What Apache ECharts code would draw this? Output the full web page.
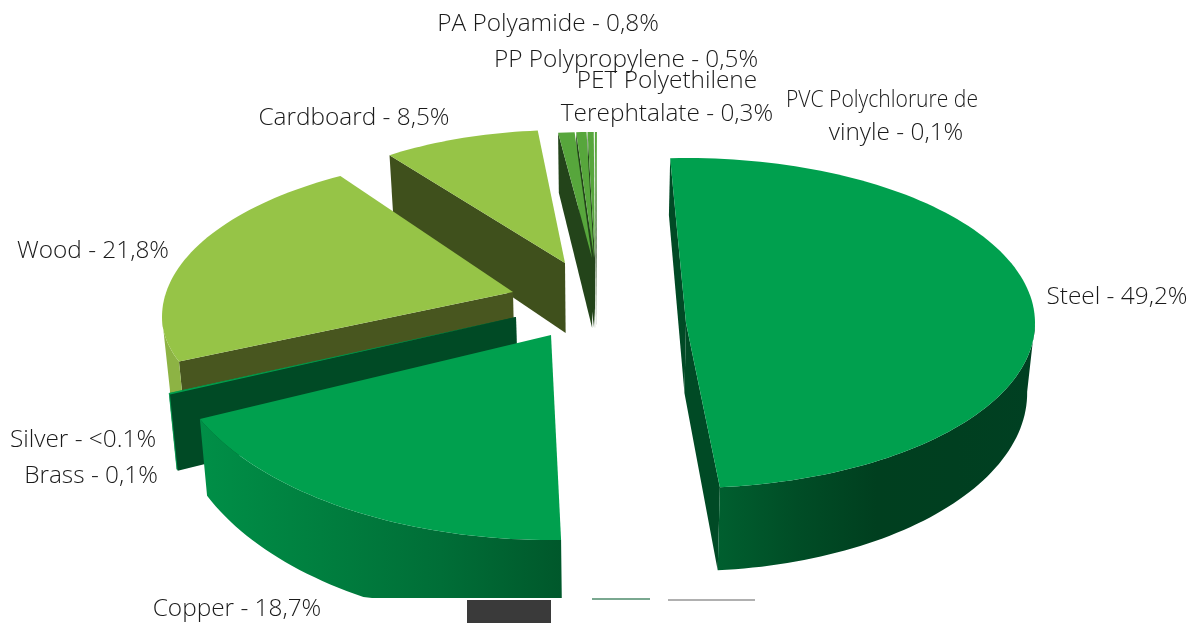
<!DOCTYPE html>
<html>
<head>
<meta charset="utf-8">
<style>
  html, body { margin: 0; padding: 0; background: #fff; }
  #chart { width: 1200px; height: 630px; }
</style>
<script src="https://cdn.jsdelivr.net/npm/echarts@6/dist/echarts.min.js"></script>
</head>
<body>
<div id="chart"></div>
<script>
// data, clockwise from the top
var categories = ['Steel', 'Copper', 'Brass', 'Silver', 'Wood', 'Cardboard', 'PA Polyamide', 'PP Polypropylene', 'PET Polyethilene Terephtalate', 'PVC Polychlorure de vinyle'];
var values = [49.2, 18.7, 0.1, 0.05, 21.8, 8.5, 0.8, 0.5, 0.3, 0.1];
var valueLabels = ['49,2%', '18,7%', '0,1%', '<0.1%', '21,8%', '8,5%', '0,8%', '0,5%', '0,3%', '0,1%'];

// where each exploded slice sits: apex, ellipse centre height, radii and start angle
var sliceLayout = [
  { ax: 686, ay: 323, cy: 323, rx: 349, ryTop: 165, ryBot: 165, start: -2.6, top: '#00a04e', side: '#004a25', wall: ['#005f2f', '#004d26', '#003f1f', '#003f20', '#004022'] },
  { ax: 551, ay: 335, cy: 335, rx: 385, ryTop: 205, ryBot: 205, start: 178.5, top: '#00a04e', side: '#004a25', wall: ['#008f47', '#007f3f', '#006e37', '#00582b'] },
  { ax: 516, ay: 317, cy: 317, rx: 377, ryTop: 195, ryBot: 195, start: 246.6, top: '#00a04e', side: '#004a25', wall: ['#00944a', '#00944a'] },
  { ax: 516, ay: 317, cy: 317, rx: 377, ryTop: 195, ryBot: 195, start: 246.9, top: '#00a04e', side: '#004a25', wall: ['#00944a', '#00944a'] },
  { ax: 513, ay: 292, cy: 317, rx: 351, ryTop: 162, ryBot: 145, start: 252.1, top: '#96c447', side: '#48561f', wall: ['#8db344', '#8db344'] },
  { ax: 565, ay: 263, cy: 263, rx: 300, ryTop: 133, ryBot: 133, start: -35.8, top: '#96c447', side: '#3f501c', wall: ['#3f501c', '#3f501c'] },
  { ax: 592, ay: 258, cy: 258, rx: 330, ryTop: 126, ryBot: 126, start: -5.9, top: '#57a63c', side: '#23441a', wall: ['#23441a', '#23441a'] },
  { ax: 594, ay: 258, cy: 258, rx: 330, ryTop: 126, ryBot: 126, start: -3.1, top: '#57a63c', side: '#23441a', wall: ['#23441a', '#23441a'] },
  { ax: 595, ay: 258, cy: 258, rx: 330, ryTop: 126, ryBot: 126, start: -1.3, top: '#57a63c', side: '#23441a', wall: ['#23441a', '#23441a'] },
  { ax: 596, ay: 258, cy: 258, rx: 330, ryTop: 126, ryBot: 126, start: -0.2, top: '#57a63c', side: '#23441a', wall: ['#23441a', '#23441a'] }
];
// painter's order, back to front
var drawOrder = [9, 8, 7, 6, 5, 4, 3, 2, 1, 0];

// one entry per label line: index into categories is implied by the order of labelLines
var labelLines = [
  ['Steel'], ['Copper'], ['Brass'], ['Silver'], ['Wood'], ['Cardboard'], ['PA Polyamide'], ['PP Polypropylene'],
  ['PET Polyethilene', 'Terephtalate'], ['PVC Polychlorure de', 'vinyle']
];
var labelLayout = [
  [{ x: 1117, y: 297 }], [{ x: 237, y: 609 }], [{ x: 91, y: 476 }], [{ x: 83, y: 440 }], [{ x: 93, y: 251 }],
  [{ x: 354, y: 118 }], [{ x: 548, y: 24 }], [{ x: 626, y: 60 }],
  [{ x: 667, y: 81 }, { x: 667, y: 114 }],
  [{ x: 882, y: 100, squeeze: 0.865 }, { x: 896, y: 133 }]
];

var total = values.reduce(function (a, b) { return a + b; }, 0);
var floorY = 598; // the source picture is cut off here

function topPoint(s, deg) {
  var t = deg * Math.PI / 180;
  var c = Math.cos(t);
  return [s.ax + s.rx * Math.sin(t), s.cy - (c > 0 ? s.ryTop : s.ryBot) * c];
}
function dropPoint(s, p) {
  // walls get taller toward the viewer and lean in a little
  var depth = 70 + 0.08 * (p[1] - s.ay);
  return [p[0] - (p[0] - 600) * 0.018, Math.min(p[1] + depth, floorY)];
}
function poly(points, fill) {
  return { type: 'polygon', shape: { points: points }, style: { fill: fill }, silent: true };
}

function renderSlice(params, api) {
  var i = api.value(0);
  var s = sliceLayout[i];
  var span = values[i] / total * 360;
  var from = s.start, to = s.start + span;
  var apex = [s.ax, s.ay];
  var arc = [];
  var steps = Math.max(2, Math.ceil(span / 1.5));
  for (var k = 0; k <= steps; k++) {
    arc.push(topPoint(s, from + span * k / steps));
  }
  var children = [];
  // radial faces, only those turned to the viewer
  if (Math.sin(from * Math.PI / 180) < 0) {
    children.push(poly([apex, arc[0], dropPoint(s, arc[0]), dropPoint(s, apex)], s.side));
  }
  if (Math.sin(to * Math.PI / 180) > 0) {
    var last = arc[arc.length - 1];
    children.push(poly([apex, last, dropPoint(s, last), dropPoint(s, apex)], s.side));
  }
  // rim, same thing
  var front = [];
  for (var j = 0; j <= steps; j++) {
    var deg = from + span * j / steps;
    if (Math.cos(deg * Math.PI / 180) < 0.02) front.push(arc[j]);
  }
  if (front.length > 1) {
    var lower = front.map(function (p) { return dropPoint(s, p); }).reverse();
    var stops = s.wall.map(function (c, n) { return { offset: n / (s.wall.length - 1), color: c }; });
    children.push(poly(front.concat(lower), new echarts.graphic.LinearGradient(0, 0, 1, 0, stops)));
  }
  children.push(poly([apex].concat(arc), s.top));
  return { type: 'group', children: children };
}

var labelElements = [];
labelLines.forEach(function (lines, i) {
  lines.forEach(function (line, n) {
    var text = n === lines.length - 1 ? line + ' - ' + valueLabels[i] : line;
    var pos = labelLayout[i][n];
    labelElements.push({
      type: 'text',
      x: pos.x,
      y: pos.y,
      scaleX: pos.squeeze || 1,
      z: 10,
      style: {
        text: text,
        align: 'center',
        verticalAlign: 'middle',
        fontFamily: 'Open Sans',
        fontWeight: 300,
        fontSize: 24.4,
        fill: '#1a1a1a'
      }
    });
  });
});

// stray bits along the bottom edge of the source picture
var strayBits = [
  { x: 467, y: 600, w: 84, h: 23, c: '#3a3a3a' },
  { x: 592, y: 598, w: 58, h: 2, c: '#7aa890' },
  { x: 668, y: 599, w: 87, h: 2, c: '#b0b0b0' }
].map(function (b) {
  return { type: 'rect', shape: { x: b.x, y: b.y, width: b.w, height: b.h }, style: { fill: b.c }, z: 5 };
});

var chart = echarts.init(document.getElementById('chart'), null, { renderer: 'canvas' });
chart.setOption({
  animation: false,
  backgroundColor: '#fff',
  graphic: { elements: strayBits.concat(labelElements) },
  series: [{
    type: 'custom',
    coordinateSystem: 'none',
    renderItem: renderSlice,
    data: drawOrder.map(function (i) { return [i, values[i]]; })
  }]
});
</script>
</body>
</html>
